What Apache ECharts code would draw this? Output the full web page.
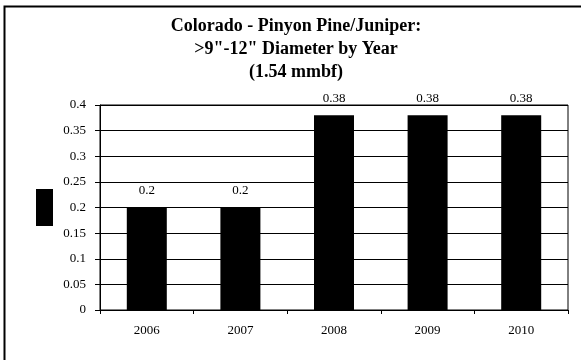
<!DOCTYPE html>
<html>
<head>
<meta charset="utf-8">
<script src="https://cdn.jsdelivr.net/npm/echarts@6/dist/echarts.min.js"></script>
<style>html,body{margin:0;padding:0;background:#fff;}#c{width:581px;height:360px;}</style>
</head>
<body>
<div id="c"></div>
<script>
var categories = ['2006', '2007', '2008', '2009', '2010'];
var values = [0.2, 0.2, 0.38, 0.38, 0.38];
var yTicks = [0, 0.05, 0.1, 0.15, 0.2, 0.25, 0.3, 0.35, 0.4];
var titleLines = ['Colorado - Pinyon Pine/Juniper:', '>9"-12" Diameter by Year', '(1.54 mmbf)'];

var chart = echarts.init(document.getElementById('c'), null, {renderer: 'canvas'});
var serif = "'Liberation Serif', 'DejaVu Serif', serif";
chart.setOption({
  animation: false,
  backgroundColor: '#fff',
  graphic: [{
    type: 'rect', silent: true,
    shape: {x: 4.5, y: 6.5, width: 700, height: 500},
    style: {fill: 'none', stroke: '#000', lineWidth: 2}
  }],
  title: {
    text: titleLines.join('\n'),
    left: 296,
    textAlign: 'center',
    top: 15,
    padding: 0,
    textStyle: {fontFamily: serif, fontSize: 18, fontWeight: 'bold', color: '#000', lineHeight: 23}
  },
  legend: {
    left: 36, top: 189, padding: 0,
    itemWidth: 17, itemHeight: 37, itemGap: 0,
    icon: 'rect',
    formatter: function () { return ''; },
    data: ['Series1'],
    textStyle: {fontSize: 1, padding: 0}
  },
  grid: {left: 100, right: 13, top: 105, bottom: 50, show: true, borderColor: '#000', borderWidth: 1, containLabel: false},
  xAxis: {
    type: 'category',
    data: categories,
    axisLine: {lineStyle: {color: '#000', width: 1}},
    axisTick: {show: true, length: 4, inside: false, alignWithLabel: false, lineStyle: {color: '#000'}},
    axisLabel: {fontFamily: serif, fontSize: 13, color: '#000', margin: 14},
    splitLine: {show: false}
  },
  yAxis: {
    type: 'value',
    min: 0, max: 0.4, interval: 0.05,
    axisLine: {show: true, lineStyle: {color: '#000', width: 1}},
    axisTick: {show: true, length: 5, lineStyle: {color: '#000'}},
    axisLabel: {fontFamily: serif, fontSize: 13, color: '#000', margin: 14,
      formatter: function (v) { return String(Math.round(v * 100) / 100); }},
    splitLine: {show: true, lineStyle: {color: '#000', width: 1}}
  },
  series: [{
    name: 'Series1',
    type: 'bar',
    data: values,
    barWidth: 40,
    itemStyle: {color: '#000'},
    label: {show: true, position: 'top', distance: 10, fontFamily: serif, fontSize: 13, color: '#000'}
  }]
});
</script>
</body>
</html>
